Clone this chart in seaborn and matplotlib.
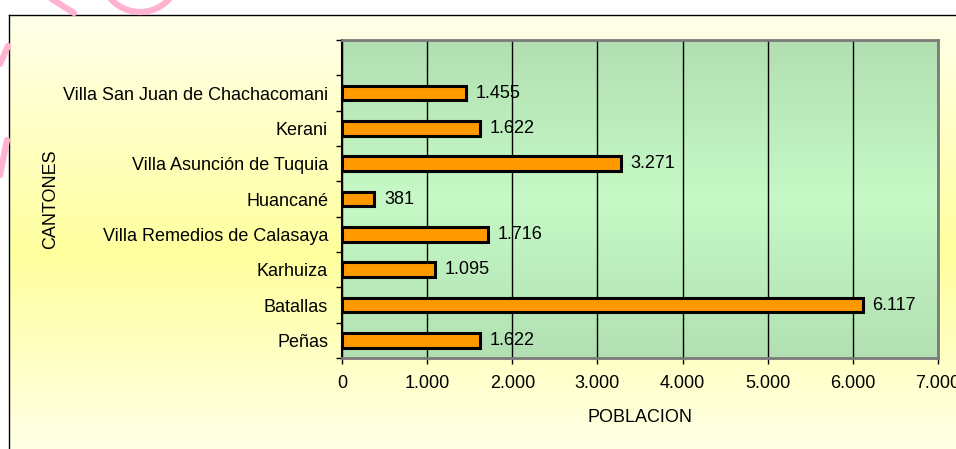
import numpy as np
import pandas as pd
import matplotlib
matplotlib.use("Agg")
import matplotlib.pyplot as plt
import seaborn as sns
from matplotlib.colors import LinearSegmentedColormap
from matplotlib.patches import Arc
from matplotlib.lines import Line2D

# data (top to bottom)
cantones = ["Villa San Juan de Chachacomani", "Kerani", "Villa Asunción de Tuquia",
            "Huancané", "Villa Remedios de Calasaya", "Karhuiza", "Batallas", "Peñas"]
poblacion = [1455, 1622, 3271, 381, 1716, 1095, 6117, 1622]
x_ticks = [0, 1000, 2000, 3000, 4000, 5000, 6000, 7000]


def miles(v):
    return f"{v:,}".replace(",", ".")


W, H = 956, 449
sns.set_theme(style="white")
plt.rcParams["font.family"] = ["Liberation Sans", "DejaVu Sans"]
FS = 13

fig = plt.figure(figsize=(W / 100, H / 100), dpi=100)
fig.patch.set_facecolor("white")

# yellow framed background
bg = fig.add_axes([9 / W, 0, 1 - 9 / W, 1 - 15 / H], zorder=0)
yellow = LinearSegmentedColormap.from_list(
    "yel", [(0.0, "#ffffe6"), (0.45, "#ffff9e"), (1.0, "#ffffea")])
bg.imshow(np.linspace(0, 1, 256)[:, None], aspect="auto", cmap=yellow,
          extent=[0, 1, 0, 1])
bg.set_xlim(0, 1)
bg.set_ylim(1, 0)
bg.set_xticks([])
bg.set_yticks([])
for side in ["right", "bottom"]:
    bg.spines[side].set_visible(False)
for side in ["left", "top"]:
    bg.spines[side].set_color("black")
    bg.spines[side].set_linewidth(1)

# plot area
rect = [342 / W, 1 - 358 / H, 596 / W, 318 / H]
gbg = fig.add_axes(rect, zorder=1)
green = LinearSegmentedColormap.from_list(
    "grn", [(0.0, "#b2dfb2"), (0.5, "#c6f9c6"), (1.0, "#b2e0b2")])
gbg.imshow(np.linspace(0, 1, 256)[:, None], aspect="auto", cmap=green,
           extent=[0, 1, 0, 1])
gbg.axis("off")

ax = fig.add_axes(rect, zorder=2)
ax.patch.set_alpha(0)

df = pd.DataFrame({"canton": cantones, "poblacion": poblacion})
sns.barplot(data=df, x="poblacion", y="canton", orient="h", color="#ff9900",
            saturation=1, edgecolor="black", linewidth=2.2, width=0.42, ax=ax,
            zorder=3)

ax.set_xlim(0, 7000)
ax.set_ylim(7.5, -1.5)
ax.set_xticks(x_ticks)
ax.set_xticklabels([miles(v) for v in x_ticks], fontsize=FS, color="black")
ax.set_yticks(range(len(cantones)))
ax.set_yticklabels(cantones, fontsize=FS, color="black")
ax.set_yticks(np.arange(-1.5, 8.0, 1.0), minor=True)
ax.tick_params(axis="y", which="major", length=0, pad=10)
ax.tick_params(axis="y", which="minor", left=True, length=4, width=1,
               color="black", direction="out")
ax.tick_params(axis="x", which="major", bottom=True, length=4, width=1,
               color="black", direction="out", pad=8)

ax.grid(axis="x", color="black", linewidth=1)
ax.grid(axis="y", visible=False)
ax.set_axisbelow(True)

ax.spines["left"].set_color("black")
ax.spines["left"].set_linewidth(1.5)
for side in ["top", "right", "bottom"]:
    ax.spines[side].set_color("#7a7a7a")
    ax.spines[side].set_linewidth(2)

for c in ax.containers:
    ax.bar_label(c, labels=[miles(v) for v in poblacion], padding=7,
                 fontsize=FS, color="black")

ax.set_xlabel("POBLACION", fontsize=FS, color="black")
ax.xaxis.set_label_coords(0.5, -0.16)
ax.set_ylabel("CANTONES", fontsize=FS, color="black")
ax.yaxis.set_label_coords(-0.475, 0.5)

# pink watermark remnants in the corner
def px(x, y):
    return x / W, 1 - y / H

pink = "#ffb3d0"
arc = Arc(px(140, -27), 78 / W, 78 / H, transform=fig.transFigure,
          color=pink, lw=4.5, zorder=5)
fig.add_artist(arc)
for (x0, y0), (x1, y1) in [((50, -2), (74, 13)), ((0, 64), (8, 46)),
                           ((0, 175), (7, 140))]:
    a, b = px(x0, y0)
    c, d = px(x1, y1)
    fig.add_artist(Line2D([a, c], [b, d], transform=fig.transFigure,
                          color=pink, lw=4.5, zorder=5))

fig.savefig("out.png", dpi=100)
